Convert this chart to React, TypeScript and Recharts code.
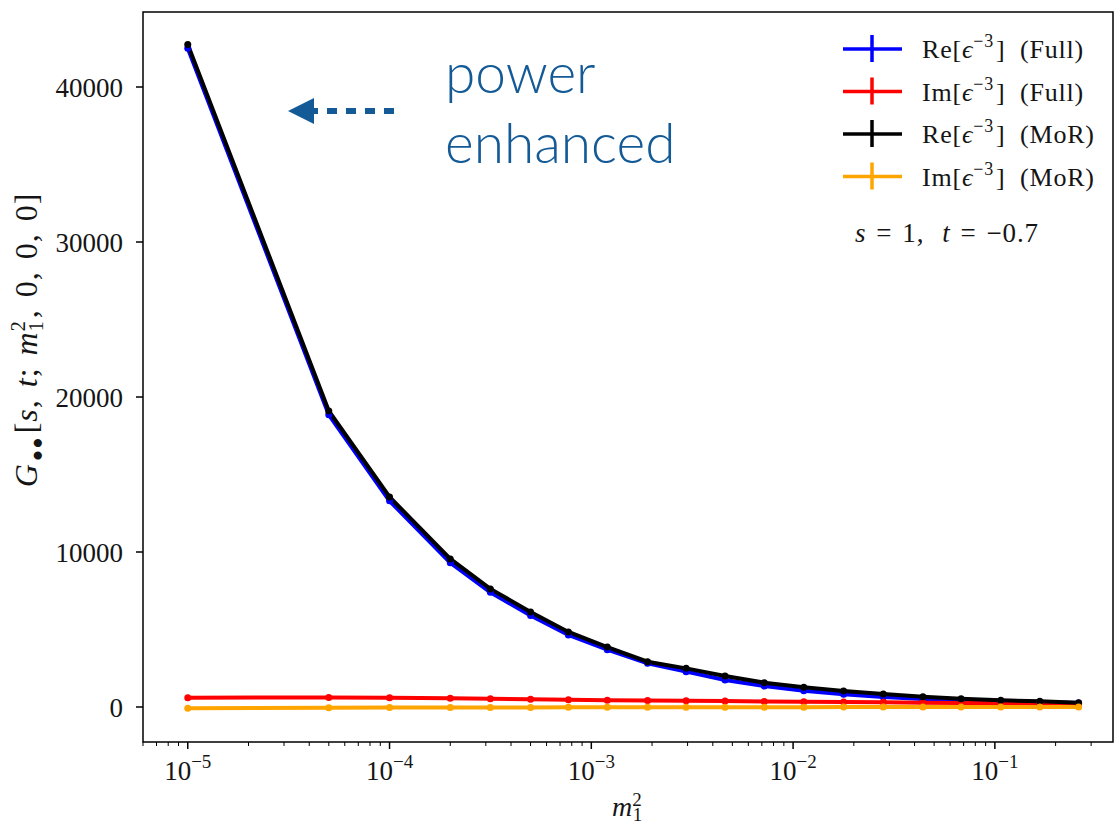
import React from 'react'
import { LineChart, Line, XAxis, YAxis, ReferenceArea } from 'recharts'

// m1^2 sample points
const m2 = [
  1e-5, 5e-5, 1e-4, 2e-4, 3.16e-4, 5e-4, 7.7e-4, 1.2e-3, 1.9e-3, 2.95e-3,
  4.6e-3, 7.2e-3, 0.0113, 0.0178, 0.028, 0.044, 0.068, 0.107, 0.167, 0.26,
]
const reFull = [
  42500, 18850, 13300, 9300, 7400, 5900, 4650, 3700, 2817, 2280,
  1742, 1355, 1054, 817, 645, 516, 420, 355, 323, 258,
]
const imFull = [
  600, 620, 590, 560, 530, 500, 470, 440, 420, 400,
  380, 360, 340, 320, 300, 280, 260, 240, 220, 200,
]
const reMor = [
  42750, 19100, 13550, 9550, 7620, 6130, 4840, 3870, 2923, 2494,
  2000, 1570, 1270, 1032, 839, 666, 537, 430, 366, 280,
]
const imMor = [
  -80, -50, -40, -35, -30, -25, -20, -20, -15, -15,
  -10, -10, -10, -5, -5, -5, 0, 0, 0, 0,
]

const xMajor = [1e-5, 1e-4, 1e-3, 1e-2, 1e-1]
const minorMult = [2, 3, 4, 5, 6, 7, 8, 9]
const yTicks = [0, 10000, 20000, 30000, 40000]
const xDomain = [6e-6, 0.385]
const yDomain = [-2258, 44839]

const data = m2.map((x, i) => ({
  x,
  reFull: reFull[i],
  imFull: imFull[i],
  reMor: reMor[i],
  imMor: imMor[i],
}))

const xTicks = [
  ...[1e-6, ...xMajor].flatMap((d) => minorMult.map((k) => k * d)),
  ...xMajor,
]
  .filter((v) => v >= xDomain[0] && v <= xDomain[1])
  .sort((a, b) => a - b)

const serif = '"Liberation Serif", "DejaVu Serif", serif'
const ink = '#151515'
const blueText = '#135a96'

const XTick = (props: any) => {
  const { x, y, payload } = props
  const v = payload.value
  const e = Math.round(Math.log10(v))
  const major = Math.abs(Math.log10(v) - e) < 1e-6
  return (
    <g>
      <line x1={x} x2={x} y1={y} y2={y + (major ? 7 : 4)} stroke="#000" strokeWidth={major ? 1.5 : 1} />
      {major && (
        <text x={x} y={y + 38} textAnchor="middle" fontFamily={serif} fontSize={27} fill={ink}>
          10
          <tspan dy={-12} fontSize={19}>
            {'\u2212' + -e}
          </tspan>
        </text>
      )}
    </g>
  )
}

const YTick = (props: any) => {
  const { x, y, payload } = props
  return (
    <g>
      <line x1={x - 7} x2={x} y1={y} y2={y} stroke="#000" strokeWidth={1.5} />
      <text x={x - 20} y={y + 10} textAnchor="end" fontFamily={serif} fontSize={27} fill={ink}>
        {payload.value}
      </text>
    </g>
  )
}

const series = [
  { key: 'reFull', color: '#0000ff', label: 'Re', tag: '(Full)' },
  { key: 'imFull', color: '#ff0000', label: 'Im', tag: '(Full)' },
  { key: 'reMor', color: '#000000', label: 'Re', tag: '(MoR)' },
  { key: 'imMor', color: '#ffa500', label: 'Im', tag: '(MoR)' },
]

export default function App() {
  return (
    <div style={{ position: 'absolute', left: 0, top: 0, width: 1115, height: 827, background: '#fff' }}>
      <LineChart width={1115} height={827} data={data} margin={{ top: 12, right: 2, left: 0, bottom: 0 }}>
        <XAxis
          dataKey="x"
          type="number"
          scale="log"
          domain={xDomain}
          allowDataOverflow
          ticks={xTicks}
          interval={0}
          tick={<XTick />}
          tickLine={false}
          tickSize={0}
          tickMargin={0}
          axisLine={false}
          height={85}
        />
        <YAxis
          type="number"
          domain={yDomain}
          allowDataOverflow
          ticks={yTicks}
          interval={0}
          tick={<YTick />}
          tickLine={false}
          tickSize={0}
          tickMargin={0}
          axisLine={false}
          width={143}
        />
        <ReferenceArea
          x1={xDomain[0]}
          x2={xDomain[1]}
          y1={yDomain[0]}
          y2={yDomain[1]}
          fill="none"
          fillOpacity={0}
          stroke="#000"
          strokeWidth={1.5}
        />
        {series.map((s) => (
          <Line
            key={s.key}
            dataKey={s.key}
            type="linear"
            stroke={s.color}
            strokeWidth={4}
            dot={{ r: 3.5, fill: s.color, stroke: s.color, strokeWidth: 0 }}
            activeDot={false}
            isAnimationActive={false}
          />
        ))}
      </LineChart>
      <svg
        width={1115}
        height={827}
        style={{ position: 'absolute', left: 0, top: 0, pointerEvents: 'none' }}
      >
        {/* legend */}
        {series.map((s, i) => {
          const cy = 49 + i * 42.5
          return (
            <g key={s.key}>
              <line x1={843} x2={902} y1={cy} y2={cy} stroke={s.color} strokeWidth={3.5} />
              <line x1={872} x2={872} y1={cy - 14} y2={cy + 13} stroke={s.color} strokeWidth={3.5} />
              <text x={922} y={cy + 9} fontFamily={serif} fontSize={26} fill={ink} letterSpacing={0.8}>
                {s.label}[<tspan fontStyle="italic">{'\u03f5'}</tspan>
                <tspan dy={-11} fontSize={18}>
                  {'\u22123'}
                </tspan>
                <tspan dy={11} dx={2}>]</tspan>
                <tspan x={1020}>{s.tag}</tspan>
              </text>
            </g>
          )
        })}
        <text x={855} y={242} fontFamily={serif} fontSize={27} fill={ink} letterSpacing={0.8}>
          <tspan fontStyle="italic">s</tspan>
          <tspan dx={10}>=</tspan>
          <tspan dx={10}>1,</tspan>
          <tspan dx={18} fontStyle="italic">t</tspan>
          <tspan dx={10}>=</tspan>
          <tspan dx={10}>{'\u2212'}0.7</tspan>
        </text>

        {/* annotation */}
        <line x1={394} x2={312} y1={111} y2={111} stroke={blueText} strokeWidth={6} strokeDasharray="10 9" />
        <polygon points="288,111 314,98 314,124" fill={blueText} />
        <text x={445} y={93} fontFamily="Lato, sans-serif" fontWeight={300} fontSize={55} fill={blueText}>
          power
        </text>
        <text x={445} y={163} fontFamily="Lato, sans-serif" fontWeight={300} fontSize={55} fill={blueText}>
          enhanced
        </text>

        {/* axis labels */}
        <text x={612} y={816} fontFamily={serif} fontSize={28} fill={ink}>
          <tspan fontStyle="italic">m</tspan>
          <tspan dy={-10} fontSize={19}>2</tspan>
          <tspan dx={-9} dy={15} fontSize={19}>1</tspan>
        </text>
        <text
          x={0}
          y={0}
          transform="translate(37,340) rotate(-90)"
          textAnchor="middle"
          fontFamily={serif}
          fontSize={32}
          fill={ink}
          letterSpacing={1}
        >
          <tspan fontStyle="italic">G</tspan>
          <tspan dx={2} dy={6} fontSize={19}>{'\u25cf\u25cf'}</tspan>
          <tspan dy={-6} dx={3}>[</tspan>
          <tspan fontStyle="italic">s</tspan>
          <tspan>,</tspan>
          <tspan dx={12} fontStyle="italic">t</tspan>
          <tspan>;</tspan>
          <tspan dx={12} fontStyle="italic">m</tspan>
          <tspan dy={-12} fontSize={20}>2</tspan>
          <tspan dx={-11} dy={18} fontSize={20}>1</tspan>
          <tspan dx={2} dy={-6}>,</tspan>
          <tspan dx={12}>0,</tspan>
          <tspan dx={12}>0,</tspan>
          <tspan dx={12}>0]</tspan>
        </text>
      </svg>
    </div>
  )
}
